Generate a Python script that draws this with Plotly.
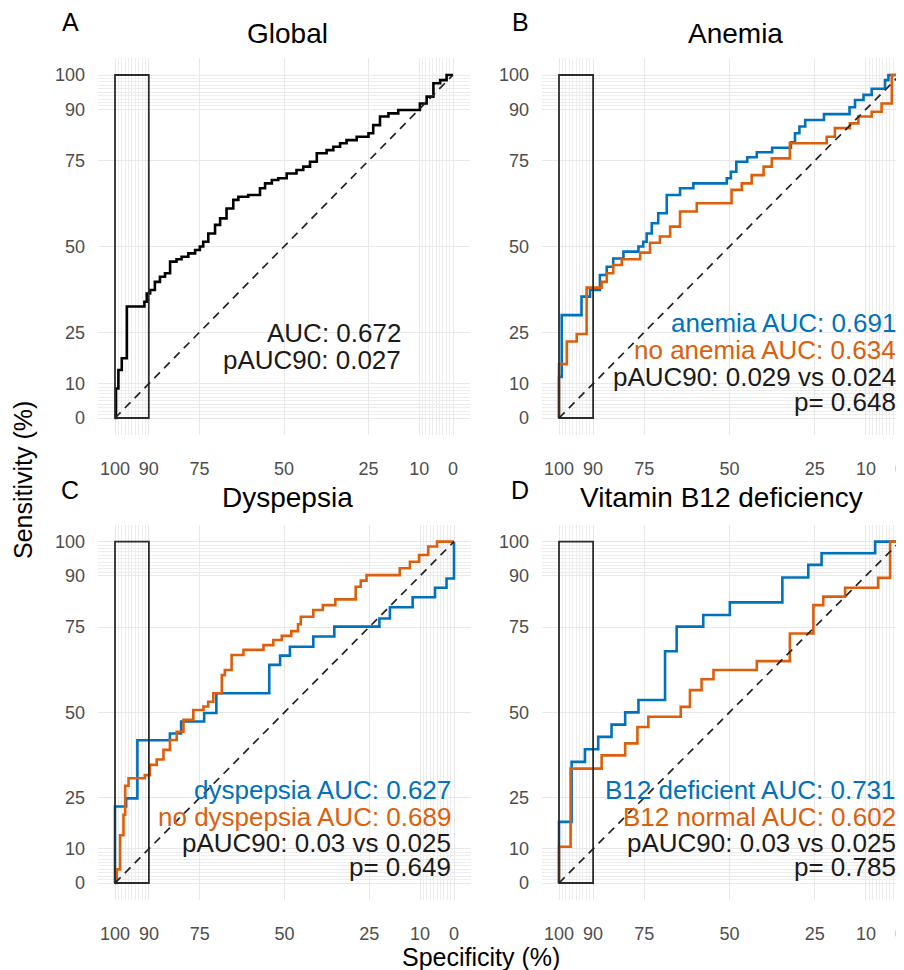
import plotly.graph_objects as go

# ---------------- data (specificity %, sensitivity %) ----------------
global_spec = [100, 99.7, 99.0, 98.0, 96.5, 91.3, 90.6, 89.6, 88.2, 86.7, 85.2, 83.7, 81.8, 80.3, 78.3,
               76.3, 74.9, 73.9, 72.4, 70.4, 68.9, 67.0, 65.0, 63.5, 60.6, 57.1, 55.6, 53.6, 51.7, 49.2,
               46.3, 44.3, 42.3, 40.3, 37.4, 35.4, 33.4, 31.5, 28.5, 25.0, 23.6, 21.6, 19.1, 16.2, 9.8,
               7.8, 5.8, 3.8, 1.9, 0]
global_sens = [0, 8.6, 14.0, 17.4, 32.5, 33.9, 36.3, 37.3, 39.7, 41.2, 42.2, 45.6, 46.3, 47.0, 48.0,
               49.0, 50.0, 51.4, 53.8, 56.3, 58.2, 61.1, 63.6, 64.5, 65.0, 67.0, 68.4, 69.4, 69.9, 71.3,
               72.3, 73.3, 74.7, 77.2, 78.1, 79.1, 80.1, 81.0, 82.0, 83.0, 85.4, 87.9, 88.8, 89.8, 91.7,
               93.7, 97.6, 98.5, 100, 100]

anemia_spec = [100, 100, 99.2, 93.4, 90.9, 88.0, 86.0, 84.1, 81.1, 76.7, 75.3, 74.3, 72.8, 70.9, 68.4,
               64.5, 60.6, 50.8, 49.6, 48.0, 44.8, 42.0, 37.5, 32.0, 30.8, 29.5, 27.8, 22.3, 14.8, 13.2,
               10.7, 8.3, 4.4, 3.4, 0]
anemia_sens = [0, 12, 30, 35.4, 37.3, 41.7, 44.1, 46.5, 48.5, 50.0, 51.4, 53.8, 56.8, 59.7, 65.0,
               67.0, 68.4, 69.9, 71.8, 74.7, 76.0, 77.5, 78.8, 80.4, 83.0, 85.0, 86.9, 88.6, 90.6, 92.7,
               94.2, 96.0, 98.5, 100, 100]
noanemia_spec = [100, 100, 97.7, 94.8, 91.9, 87.5, 86.0, 84.1, 81.6, 76.2, 73.3, 70.4, 67.4, 64.5, 59.6,
                 49.4, 46.4, 43.5, 40.0, 37.6, 32.3, 21.5, 19.1, 14.7, 12.2, 8.3, 5.4, 2.4, 0]
noanemia_sens = [0, 15.7, 22.3, 24.5, 38.0, 39.7, 42.2, 44.6, 46.3, 48.2, 51.1, 52.9, 55.8, 60.2, 62.6,
                 66.5, 68.4, 70.8, 73.3, 75.7, 80.1, 82.0, 84.5, 85.9, 87.9, 89.3, 91.7, 100, 100]

dysp_spec = [100, 100, 96.7, 93.4, 83.8, 80.5, 73.7, 70.1, 54.5, 51.3, 48.4, 41.5, 35.3, 22.0, 18.9,
             12.2, 5.6, 2.2, 0]
dysp_sens = [0, 22.4, 24.8, 41.8, 43.8, 47.3, 49.8, 55.6, 63.9, 66.6, 69.2, 72.2, 75.1, 77.5, 80.8,
             83.7, 86.5, 89.2, 100]
nodysp_spec = [100, 99.5, 98.5, 97.5, 97.0, 96.0, 91.2, 89.7, 87.7, 85.7, 83.8, 81.8, 79.8, 76.9, 73.9,
               72.5, 71.0, 68.5, 67.6, 65.6, 62.1, 56.2, 53.3, 50.8, 48.0, 46.0, 45.2, 41.5, 38.7, 35.0,
               29.0, 27.5, 25.8, 16.0, 13.0, 10.3, 7.6, 5.0, 0]
nodysp_sens = [0, 4.0, 14.0, 20.0, 28.5, 30.7, 31.6, 34.6, 36.2, 39.0, 41.9, 44.3, 47.8, 50.7, 51.7,
               53.1, 55.6, 60.9, 62.4, 66.8, 68.3, 69.7, 71.2, 72.4, 73.8, 75.8, 78.0, 80.0, 81.4, 83.1,
               86.8, 88.6, 90.2, 92.2, 94.1, 96.1, 98.6, 100, 100]

b12def_spec = [100, 100, 96.3, 92.4, 88.5, 84.6, 80.6, 76.7, 68.9, 65.5, 57.7, 49.9, 34.5, 26.9, 23.0, 7.3, 0]
b12def_sens = [0, 17.9, 35.5, 39.2, 42.8, 46.4, 50.0, 53.6, 67.9, 75.1, 78.5, 82.2, 89.5, 93.2, 96.6, 100, 100]
b12norm_spec = [100, 100, 96.6, 87.5, 80.6, 77.0, 73.8, 64.3, 61.6, 58.2, 54.7, 42.0, 32.3, 25.4, 22.5,
                16.1, 6.4, 2.9, 0]
b12norm_sens = [0, 10.6, 33.5, 37.4, 40.9, 45.7, 48.7, 51.6, 56.5, 59.7, 62.4, 65.0, 73.1, 81.4, 83.9,
                86.5, 89.4, 100, 100]

panel_tags = ["A", "B", "C", "D"]
panel_titles = ["Global", "Anemia", "Dyspepsia", "Vitamin B12 deficiency"]
panel_texts = [
    [("AUC: 0.672", "black"), ("pAUC90: 0.027", "black")],
    [("anemia AUC: 0.691", "blue"), ("no anemia AUC: 0.634", "orange"),
     ("pAUC90: 0.029 vs 0.024", "black"), ("p= 0.648", "black")],
    [("dyspepsia AUC: 0.627", "blue"), ("no dyspepsia AUC: 0.689", "orange"),
     ("pAUC90: 0.03 vs 0.025", "black"), ("p= 0.649", "black")],
    [("B12 deficient AUC: 0.731", "blue"), ("B12 normal AUC: 0.602", "orange"),
     ("pAUC90: 0.03 vs 0.025", "black"), ("p= 0.785", "black")],
]

major_ticks = [0, 10, 25, 50, 75, 90, 100]
minor_ticks = list(range(1, 10)) + list(range(91, 100))

# ---------------- styling ----------------
PAGE_W, PAGE_H = 904, 970
OFF = 8                       # default body margin of the html page
W, H = PAGE_W - OFF, PAGE_H - OFF
BLUE = "#0071BC"
ORANGE = "#DD5F0C"
COLORS = {"blue": BLUE, "orange": ORANGE, "black": "#1a1a1a"}
FONT = "Liberation Sans, Arial, sans-serif"


def fx(px):
    return (px - OFF) / W


def fy(py):
    return 1 - (py - OFF) / H


# panel geometry in page pixels: (x_left, x_right), (y_top, y_bottom) and x-range
panels = [
    dict(px=(98.1, 469.9), py=(57.85, 435.15), xr=[105, -5]),
    dict(px=(541.95, 904), py=(57.85, 435.15), xr=[105, -1.17]),
    dict(px=(98.05, 470.95), py=(524.6, 900.07), xr=[105, -5]),
    dict(px=(541.95, 904), py=(524.6, 900.07), xr=[105, -1.17]),
]

fig = go.Figure()

series = [
    [(global_spec, global_sens, "#000000")],
    [(anemia_spec, anemia_sens, BLUE), (noanemia_spec, noanemia_sens, ORANGE)],
    [(dysp_spec, dysp_sens, BLUE), (nodysp_spec, nodysp_sens, ORANGE)],
    [(b12def_spec, b12def_sens, BLUE), (b12norm_spec, b12norm_sens, ORANGE)],
]

annotations = []
shapes = []
for i, p in enumerate(panels):
    n = "" if i == 0 else str(i + 1)
    xa, ya = "x" + n, "y" + n
    dom_x = [fx(p["px"][0]), min(1.0, fx(p["px"][1]))]
    dom_y = [fy(p["py"][1]), fy(p["py"][0])]
    axis_common = dict(tickmode="array", tickvals=major_ticks, ticktext=[str(v) for v in major_ticks],
                       showgrid=True, gridcolor="#E8E8E8", gridwidth=1.2, zeroline=False,
                       showline=False, ticks="",
                       minor=dict(tickmode="array", tickvals=minor_ticks, showgrid=True,
                                  gridcolor="#EDEDED", gridwidth=1, ticks=""),
                       tickfont=dict(size=18, color="#4D4D4D", family=FONT))
    fig.update_layout(**{
        ("xaxis" + n): dict(domain=dom_x, range=p["xr"], anchor=ya, ticklabelstandoff=21,
                            ticklabeloverflow="allow", **axis_common),
        ("yaxis" + n): dict(domain=dom_y, range=[-5, 105], anchor=xa, ticklabelstandoff=12, **axis_common),
    })
    for spec, sens, col in series[i]:
        fig.add_trace(go.Scatter(x=spec, y=sens, mode="lines", xaxis=xa, yaxis=ya,
                                 line=dict(shape="hv", color=col, width=2.6),
                                 showlegend=False, hoverinfo="skip"))
    # partial AUC box
    shapes.append(dict(type="rect", xref=xa, yref=ya, x0=100, x1=90, y0=0, y1=100,
                       line=dict(color="#2b2b2b", width=1.8), fillcolor="rgba(0,0,0,0)"))
    # chance diagonal
    shapes.append(dict(type="line", xref=xa, yref=ya, x0=100, y0=0, x1=0, y1=100,
                       line=dict(color="#222222", width=1.7, dash="8px,6px")))
    # text block
    texts = panel_texts[i]
    if i == 0:
        xs, ys = 14.8, [24.8, 16.9]
    elif i == 1:
        xs, ys = 0.6, [27.6, 19.7, 11.9, 4.6]
    else:
        xs, ys = 0.3 if i == 2 else 0.6, [27.2, 19.3, 11.7, 4.7]
    for (t, c), yv in zip(texts, ys):
        annotations.append(dict(text=t, xref=xa, yref=ya, x=xs, y=yv, xanchor="right",
                                yanchor="middle", showarrow=False,
                                font=dict(size=26, color=COLORS[c], family=FONT)))

# panel tags and titles (page pixel positions converted to paper coords)
tag_pos = [(70, 22), (520, 22), (70, 490), (520, 490)]
title_pos = [(287, 34), (735, 34), (287, 497), (721, 497)]
for i in range(4):
    annotations.append(dict(text=panel_tags[i], xref="paper", yref="paper",
                            x=fx(tag_pos[i][0]), y=fy(tag_pos[i][1]), showarrow=False,
                            xanchor="center", yanchor="middle",
                            font=dict(size=25, color="black", family=FONT)))
    annotations.append(dict(text=panel_titles[i], xref="paper", yref="paper",
                            x=fx(title_pos[i][0]), y=fy(title_pos[i][1]), showarrow=False,
                            xanchor="center", yanchor="middle",
                            font=dict(size=28, color="black", family=FONT)))

annotations.append(dict(text="Sensitivity (%)", xref="paper", yref="paper", x=fx(23), y=fy(480),
                        showarrow=False, textangle=-90, xanchor="center", yanchor="middle",
                        font=dict(size=25, color="black", family=FONT)))
annotations.append(dict(text="Specificity (%)", xref="paper", yref="paper", x=fx(481), y=fy(957),
                        showarrow=False, xanchor="center", yanchor="middle",
                        font=dict(size=25, color="black", family=FONT)))

fig.update_layout(width=W, height=H, margin=dict(l=0, r=0, t=0, b=0, autoexpand=False),
                  paper_bgcolor="white", plot_bgcolor="white",
                  annotations=annotations, shapes=shapes, showlegend=False)

fig.write_html("out.html")
